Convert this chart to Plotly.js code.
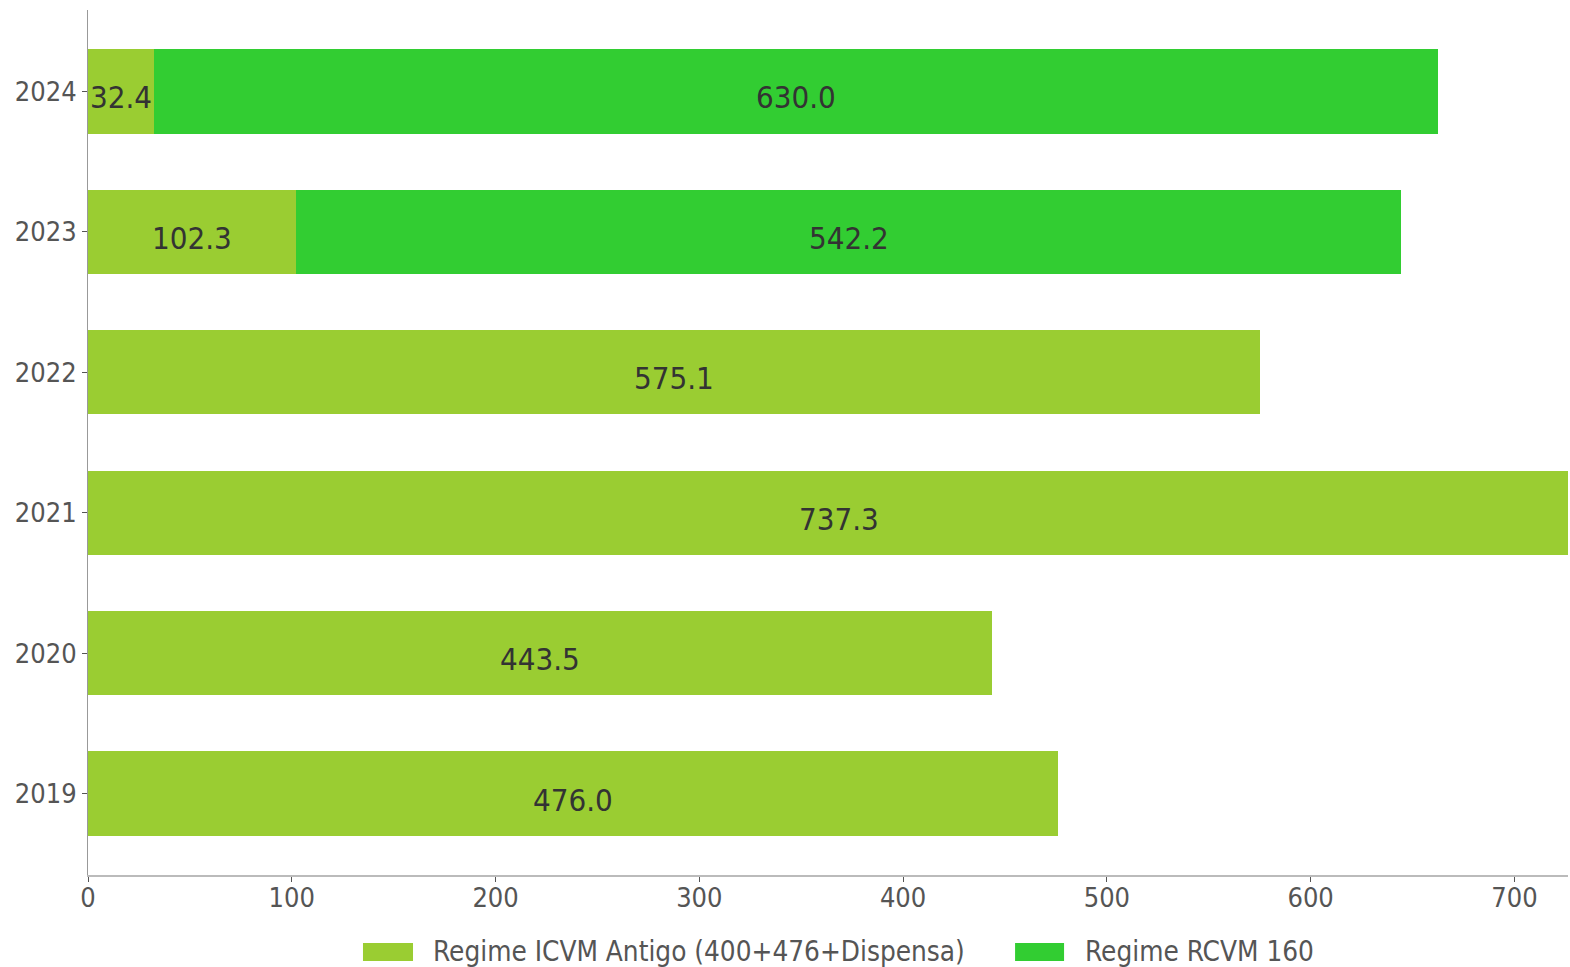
<!DOCTYPE html>
<html>
<head>
<meta charset="utf-8">
<script src="https://cdn.plot.ly/plotly-3.0.1.min.js"></script>
<style>html,body{margin:0;padding:0;background:#fff;}#chart{width:1570px;height:967px;}</style>
</head>
<body>
<div id="chart"></div>
<script>
const years = ['2019', '2020', '2021', '2022', '2023', '2024'];
const antigo = [476.0, 443.5, 737.3, 575.1, 102.3, 32.4];
const rcvm = [0, 0, 0, 0, 542.2, 630.0];
const seriesNames = ['Regime ICVM Antigo (400+476+Dispensa)', 'Regime RCVM 160'];
const colors = ['#9ACD32', '#32CD32'];
const xTicks = [0, 100, 200, 300, 400, 500, 600, 700];

const FONT = '"DejaVu Sans Condensed", "DejaVu Sans", sans-serif';

const traces = [
  {type: 'bar', orientation: 'h', y: years, x: antigo, name: seriesNames[0],
   marker: {color: colors[0]}, width: 0.6, showlegend: false, hoverinfo: 'x+y'},
  {type: 'bar', orientation: 'h', y: years, x: rcvm, name: seriesNames[1],
   marker: {color: colors[1]}, width: 0.6, showlegend: false, hoverinfo: 'x+y'}
];

const annotations = [];
years.forEach((yr, i) => {
  if (antigo[i] > 0) annotations.push({x: antigo[i] / 2, y: i, xref: 'x', yref: 'y',
    text: antigo[i].toFixed(1), showarrow: false, yshift: -6,
    font: {family: FONT, size: 31, color: '#333333'}});
  if (rcvm[i] > 0) annotations.push({x: antigo[i] + rcvm[i] / 2, y: i, xref: 'x', yref: 'y',
    text: rcvm[i].toFixed(1), showarrow: false, yshift: -6,
    font: {family: FONT, size: 31, color: '#333333'}});
});

// custom legend
const legendItems = [
  {x0: 0.1858, x1: 0.2196, tx: 0.2317},
  {x0: 0.6264, x1: 0.6595, tx: 0.6722}
];
const shapes = [];
legendItems.forEach((it, k) => {
  shapes.push({type: 'rect', xref: 'paper', yref: 'paper', x0: it.x0, x1: it.x1,
    y0: -0.0786, y1: -0.0994, fillcolor: colors[k], line: {width: 0}});
  annotations.push({xref: 'paper', yref: 'paper', x: it.tx, y: -0.089, xanchor: 'left',
    yanchor: 'middle', text: seriesNames[k], showarrow: false,
    font: {family: FONT, size: 27.7, color: '#555555'}});
});

const layout = {
  width: 1570, height: 967,
  margin: {l: 88, r: 2, t: 10, b: 92},
  paper_bgcolor: '#ffffff', plot_bgcolor: '#ffffff',
  barmode: 'stack',
  font: {family: FONT, size: 27, color: '#555555'},
  xaxis: {range: [0, 726.3], tickvals: xTicks, ticktext: xTicks.map(String),
    showgrid: false, zeroline: false, showline: true, linecolor: '#bbbbbb', linewidth: 1.5,
    ticks: 'outside', ticklen: 5, tickcolor: '#555555', tickwidth: 1,
    ticklabelstandoff: -7,
    tickfont: {family: FONT, size: 27, color: '#555555'}},
  yaxis: {type: 'category', categoryorder: 'array', categoryarray: years,
    range: [-0.58, 5.58], showgrid: false, zeroline: false, showline: true,
    linecolor: '#999999', linewidth: 1, ticks: 'outside', ticklen: 5, tickcolor: '#555555',
    tickfont: {family: FONT, size: 27, color: '#555555'}},
  shapes: shapes,
  annotations: annotations,
  showlegend: false
};

Plotly.newPlot('chart', traces, layout, {displayModeBar: false, staticPlot: true});
</script>
</body>
</html>
